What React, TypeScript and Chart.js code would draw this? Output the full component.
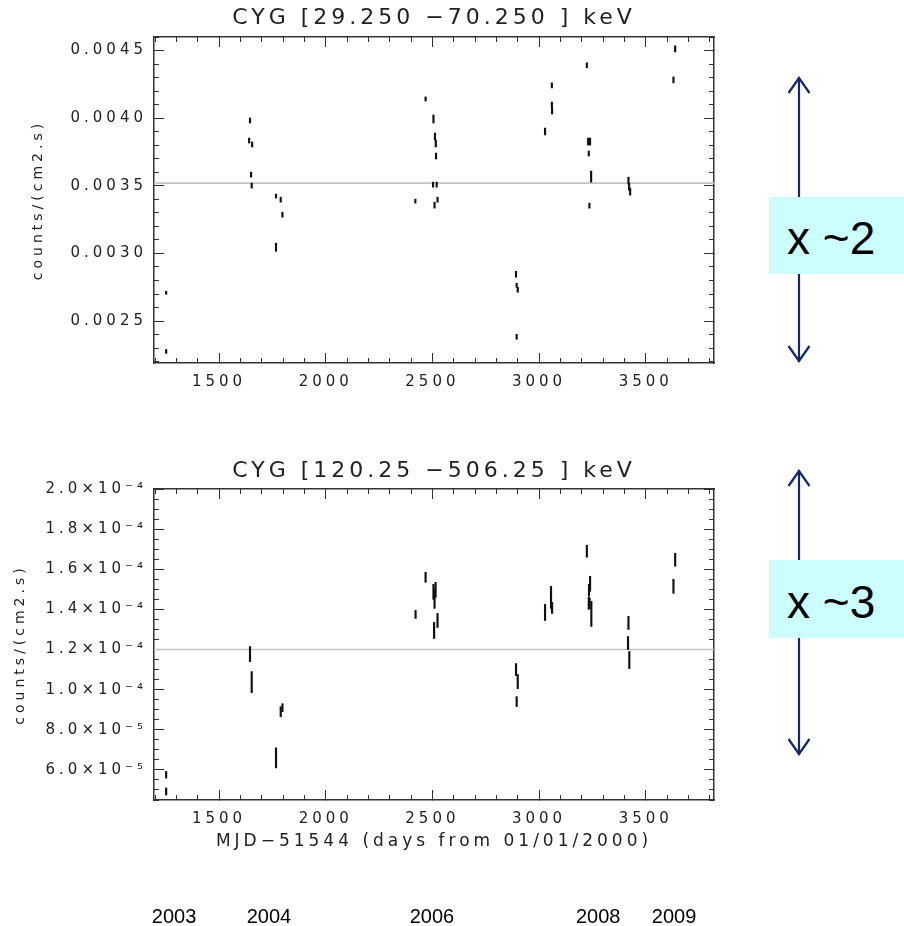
import React, { useEffect, useRef } from 'react';
import { Chart, registerables } from 'chart.js';

Chart.register(...registerables);

const FONT = '"DejaVu Sans", sans-serif';
const INK = '#222';
const AXIS = '#333';

// Time axis: MJD − 51544 (days since 2000-01-01)
const dayMin = 1195;
const dayMax = 3820;
const dayTicks = [1500, 2000, 2500, 3000, 3500];
const dayTickLabels = ['1500', '2000', '2500', '3000', '3500'];

// 29.25–70.25 keV band: observation day and flux interval (low / high)
const softDays = [
  1252, 1252, 1645, 1641, 1655, 1650, 1653, 1767, 1789, 1797, 1767,
  2420, 2468, 2505, 2512, 2516, 2517, 2503, 2520, 2510, 2524,
  2892, 2895, 2900, 2895,
  3028, 3060, 3061, 3060,
  3224, 3230, 3239, 3233, 3244, 3236,
  3419, 3422, 3427, 3638, 3630,
];
const softLow = [
  0.002698, 0.002261, 0.003964, 0.003816, 0.003787, 0.003564, 0.003483, 0.003409, 0.003379, 0.003268, 0.003016,
  0.003372, 0.004127, 0.003964, 0.003838, 0.003787, 0.003698, 0.00349, 0.00349, 0.003335, 0.003379,
  0.002824, 0.002749, 0.002713, 0.002365,
  0.003876, 0.004075, 0.004031, 0.004224,
  0.004372, 0.003801, 0.003801, 0.00372, 0.003527, 0.003335,
  0.003513, 0.003468, 0.003431, 0.00449, 0.004261,
];
const softHigh = [
  0.00272, 0.00229, 0.004001, 0.003853, 0.003824, 0.003601, 0.00352, 0.003439, 0.003416, 0.003305, 0.003076,
  0.003401, 0.004157, 0.004024, 0.00389, 0.003838, 0.003742, 0.003527, 0.003527, 0.003379, 0.003416,
  0.002868, 0.002779, 0.00275, 0.002402,
  0.003927, 0.004119, 0.004075, 0.004261,
  0.004409, 0.003853, 0.003853, 0.003757, 0.003609, 0.003372,
  0.003564, 0.00352, 0.003483, 0.004535, 0.004305,
];
const softMean = 0.00352;
const softMin = 0.00219;
const softMax = 0.0046;
const softTicks = [0.0025, 0.003, 0.0035, 0.004, 0.0045];
const softTickLabels = ['0.0025', '0.0030', '0.0035', '0.0040', '0.0045'];

// 120.25–506.25 keV band
const hardDays = [
  1252, 1252, 1645, 1653, 1789, 1797, 1767,
  2421, 2468, 2505, 2510, 2515, 2524, 2508,
  2892, 2900, 2895,
  3028, 3056, 3061,
  3224, 3239, 3234, 3233, 3237, 3245,
  3419, 3417, 3423, 3638, 3630,
];
const hardLow = [
  5.59e-5, 4.75e-5, 1.14e-4, 0.985e-4, 0.865e-4, 0.89e-4, 0.61e-4,
  1.355e-4, 1.535e-4, 1.45e-4, 1.405e-4, 1.46e-4, 1.31e-4, 1.255e-4,
  1.07e-4, 1.005e-4, 0.915e-4,
  1.345e-4, 1.405e-4, 1.38e-4,
  1.66e-4, 1.49e-4, 1.465e-4, 1.4e-4, 1.405e-4, 1.315e-4,
  1.3e-4, 1.2e-4, 1.105e-4, 1.615e-4, 1.48e-4,
];
const hardHigh = [
  5.92e-5, 5.1e-5, 1.215e-4, 1.09e-4, 0.915e-4, 0.93e-4, 0.71e-4,
  1.395e-4, 1.585e-4, 1.525e-4, 1.5e-4, 1.535e-4, 1.38e-4, 1.335e-4,
  1.13e-4, 1.075e-4, 0.965e-4,
  1.425e-4, 1.515e-4, 1.435e-4,
  1.72e-4, 1.565e-4, 1.525e-4, 1.46e-4, 1.455e-4, 1.44e-4,
  1.365e-4, 1.265e-4, 1.19e-4, 1.68e-4, 1.55e-4,
];
const hardMean = 1.2e-4;
const hardMin = 4.5e-5;
const hardMax = 2.0e-4;
const hardTicks = [6e-5, 8e-5, 1.0e-4, 1.2e-4, 1.4e-4, 1.6e-4, 1.8e-4, 2.0e-4];
const hardTickLabels = [
  '6.0×10⁻⁵', '8.0×10⁻⁵', '1.0×10⁻⁴', '1.2×10⁻⁴',
  '1.4×10⁻⁴', '1.6×10⁻⁴', '1.8×10⁻⁴', '2.0×10⁻⁴',
];

// Year markers under the time axis
const yearLabels = ['2003', '2004', '2006', '2008', '2009'];
const yearDays = [1289, 1734, 2498, 3277, 3633];

const CANVAS_W = 740;

// IDL-style wide lettering for every piece of canvas text
const wideLetters = {
  id: 'wideLetters',
  beforeDraw(chart: any) {
    chart.ctx.letterSpacing = '4px';
  },
};

const yearRow = {
  id: 'yearRow',
  afterDraw(chart: any) {
    const { ctx } = chart;
    const xs = chart.scales.x;
    ctx.save();
    ctx.letterSpacing = '0px';
    ctx.font = '20px "Liberation Sans", Arial, sans-serif';
    ctx.fillStyle = '#000';
    ctx.textAlign = 'center';
    ctx.textBaseline = 'alphabetic';
    yearLabels.forEach((t, i) => {
      ctx.fillText(t, xs.getPixelForValue(yearDays[i]), chart.height - 3);
    });
    ctx.restore();
  },
};

interface PanelSpec {
  title: string;
  titlePad: { top: number; bottom: number };
  days: number[];
  low: number[];
  high: number[];
  mean: number;
  yMin: number;
  yMax: number;
  yTicks: number[];
  yTickLabels: string[];
  yMinorStep: number;
  yTitlePad: number;
  height: number;
  xBoxHeight: number;
  xTitle?: string;
  xTitlePadBottom?: number;
  extraPlugins: any[];
}

function tickGrid(len: number) {
  return {
    display: true,
    drawOnChartArea: false,
    drawTicks: true,
    tickLength: len,
    tickColor: AXIS,
    tickWidth: 1,
    offset: false,
  };
}

const axisBorder = { display: true, color: AXIS, width: 1.5 };
const noBorder = { display: false };

function fixedTicks(values: number[]) {
  return (scale: any) => {
    scale.ticks = values.map((v) => ({ value: v }));
  };
}
const zeroHeight = (s: any) => {
  s.height = 0;
};
const zeroWidth = (s: any) => {
  s.width = 0;
};

function buildScales(p: PanelSpec) {
  const tickFont = { family: FONT, size: 15 };
  const xBase = { type: 'linear', min: dayMin, max: dayMax, offset: false };
  const yBase = { type: 'linear', min: p.yMin, max: p.yMax, beginAtZero: false };
  return {
    x: {
      ...xBase,
      position: 'bottom',
      weight: 1,
      grid: tickGrid(-10),
      border: axisBorder,
      afterBuildTicks: fixedTicks(dayTicks),
      afterFit: (s: any) => {
        s.height = p.xBoxHeight;
      },
      ticks: {
        font: tickFont,
        color: INK,
        padding: 20,
        autoSkip: false,
        maxRotation: 0,
        callback: (_v: any, i: number) => dayTickLabels[i],
      },
      title: p.xTitle
        ? {
            display: true,
            text: p.xTitle,
            font: { family: FONT, size: 17 },
            color: INK,
            padding: { top: 0, bottom: p.xTitlePadBottom },
          }
        : { display: false },
    },
    xMinor: {
      ...xBase,
      position: 'bottom',
      weight: 0,
      grid: tickGrid(-5),
      border: noBorder,
      ticks: { display: false, stepSize: 100, includeBounds: false },
      afterFit: zeroHeight,
    },
    xTop: {
      ...xBase,
      position: 'top',
      weight: 1,
      grid: tickGrid(-10),
      border: axisBorder,
      ticks: { display: false },
      afterBuildTicks: fixedTicks(dayTicks),
      afterFit: zeroHeight,
    },
    xTopMinor: {
      ...xBase,
      position: 'top',
      weight: 0,
      grid: tickGrid(-5),
      border: noBorder,
      ticks: { display: false, stepSize: 100, includeBounds: false },
      afterFit: zeroHeight,
    },
    y: {
      ...yBase,
      position: 'left',
      weight: 1,
      grid: tickGrid(-10),
      border: axisBorder,
      afterBuildTicks: fixedTicks(p.yTicks),
      afterFit: (s: any) => {
        s.width = 154;
      },
      ticks: {
        font: tickFont,
        color: INK,
        padding: 17,
        autoSkip: false,
        callback: (_v: any, i: number) => p.yTickLabels[i],
      },
      title: {
        display: true,
        text: 'counts/(cm2.s)',
        font: { family: FONT, size: 14 },
        color: INK,
        padding: { top: p.yTitlePad, bottom: 0 },
      },
    },
    yMinor: {
      ...yBase,
      position: 'left',
      weight: 0,
      grid: tickGrid(-5),
      border: noBorder,
      ticks: { display: false, stepSize: p.yMinorStep, includeBounds: false },
      afterFit: zeroWidth,
    },
    yRight: {
      ...yBase,
      position: 'right',
      weight: 1,
      grid: tickGrid(-10),
      border: axisBorder,
      ticks: { display: false },
      afterBuildTicks: fixedTicks(p.yTicks),
      afterFit: zeroWidth,
    },
    yRightMinor: {
      ...yBase,
      position: 'right',
      weight: 0,
      grid: tickGrid(-5),
      border: noBorder,
      ticks: { display: false, stepSize: p.yMinorStep, includeBounds: false },
      afterFit: zeroWidth,
    },
  };
}

function buildConfig(p: PanelSpec): any {
  const intervals = p.days.map((d, i) => ({ x: d, y: [p.low[i], p.high[i]] }));
  const meanLine = [
    { x: dayMin, y: p.mean },
    { x: dayMax, y: p.mean },
  ];
  return {
    type: 'bar',
    data: {
      datasets: [
        {
          type: 'bar',
          data: intervals,
          backgroundColor: '#111',
          borderWidth: 0,
          barThickness: 1.5,
          order: 1,
          xAxisID: 'x',
          yAxisID: 'y',
        },
        {
          type: 'line',
          data: meanLine,
          borderColor: '#c4c4c4',
          borderWidth: 1.6,
          pointRadius: 0,
          order: 2,
          xAxisID: 'x',
          yAxisID: 'y',
        },
      ],
    },
    options: {
      animation: false,
      responsive: false,
      maintainAspectRatio: false,
      events: [],
      layout: { padding: { left: 0, right: CANVAS_W - 714, top: 0, bottom: 0 } },
      plugins: {
        legend: { display: false },
        tooltip: { enabled: false },
        title: {
          display: true,
          fullSize: false,
          text: p.title,
          color: INK,
          font: { family: FONT, size: 22, weight: 'normal' },
          padding: p.titlePad,
        },
      },
      scales: buildScales(p),
    },
    plugins: [wideLetters, ...p.extraPlugins],
  };
}

const softPanel: PanelSpec = {
  title: 'CYG [29.250 −70.250 ] keV',
  titlePad: { top: 4.8, bottom: 5.8 },
  days: softDays,
  low: softLow,
  high: softHigh,
  mean: softMean,
  yMin: softMin,
  yMax: softMax,
  yTicks: softTicks,
  yTickLabels: softTickLabels,
  yMinorStep: 0.0001,
  yTitlePad: 30,
  height: 410,
  xBoxHeight: 47,
  extraPlugins: [],
};

const hardPanel: PanelSpec = {
  title: 'CYG [120.25 −506.25 ] keV',
  titlePad: { top: 7.8, bottom: 4.8 },
  days: hardDays,
  low: hardLow,
  high: hardHigh,
  mean: hardMean,
  yMin: hardMin,
  yMax: hardMax,
  yTicks: hardTicks,
  yTickLabels: hardTickLabels,
  yMinorStep: 5e-6,
  yTitlePad: 12,
  height: 476,
  xBoxHeight: 126,
  xTitle: 'MJD−51544 (days from 01/01/2000)',
  xTitlePadBottom: 74,
  extraPlugins: [yearRow],
};

function Panel({ spec, top }: { spec: PanelSpec; top: number }) {
  const ref = useRef<HTMLCanvasElement>(null);
  useEffect(() => {
    if (!ref.current) return;
    const chart = new Chart(ref.current, buildConfig(spec));
    return () => chart.destroy();
  }, [spec]);
  return (
    <canvas
      ref={ref}
      width={CANVAS_W}
      height={spec.height}
      style={{ position: 'absolute', left: 0, top, width: CANVAS_W, height: spec.height }}
    />
  );
}

const NAVY = '#13296b';

function RangeArrow({
  tipTop,
  tipBottom,
  boxTop,
  boxBottom,
  label,
  baseline,
}: {
  tipTop: number;
  tipBottom: number;
  boxTop: number;
  boxBottom: number;
  label: string;
  baseline: number;
}) {
  const x = 799;
  return (
    <g>
      <line x1={x} y1={tipTop} x2={x} y2={tipBottom} stroke={NAVY} strokeWidth={2.2} />
      <polyline
        points={`${x - 10.5},${tipTop + 16} ${x},${tipTop + 1} ${x + 10.5},${tipTop + 16}`}
        fill="none"
        stroke={NAVY}
        strokeWidth={2.2}
      />
      <polyline
        points={`${x - 10.5},${tipBottom - 16} ${x},${tipBottom - 1} ${x + 10.5},${tipBottom - 16}`}
        fill="none"
        stroke={NAVY}
        strokeWidth={2.2}
      />
      <rect x={769} y={boxTop} width={904 - 769} height={boxBottom - boxTop} fill="#ccffff" />
      <text
        x={787}
        y={baseline}
        fontFamily='"Liberation Sans", Arial, sans-serif'
        fontSize={46}
        fill="#000"
      >
        {label}
      </text>
    </g>
  );
}

export default function App() {
  return (
    <div
      style={{
        position: 'absolute',
        left: 0,
        top: 0,
        width: 904,
        height: 926,
        background: '#fff',
        overflow: 'hidden',
      }}
    >
      <Panel spec={softPanel} top={0} />
      <Panel spec={hardPanel} top={450} />
      <svg
        width={904}
        height={926}
        style={{ position: 'absolute', left: 0, top: 0, pointerEvents: 'none' }}
      >
        <RangeArrow tipTop={77} tipBottom={362} boxTop={197} boxBottom={274} label="x ~2" baseline={254} />
        <RangeArrow tipTop={470} tipBottom={755} boxTop={560} boxBottom={638} label="x ~3" baseline={618} />
      </svg>
    </div>
  );
}
